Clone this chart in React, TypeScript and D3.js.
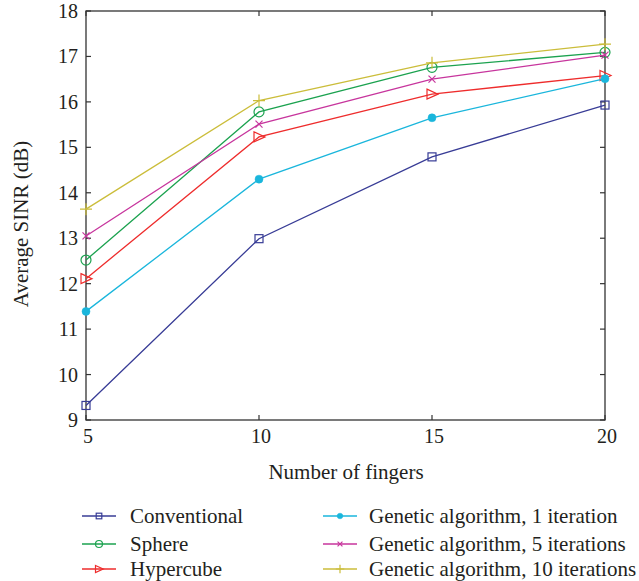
import React from "react";
import * as d3 from "d3";

const fingers = [5, 10, 15, 20];
const conventional = [9.32, 12.99, 14.79, 15.93];
const sphere = [12.52, 15.78, 16.76, 17.09];
const hypercube = [12.11, 15.23, 16.17, 16.58];
const ga1 = [11.39, 14.3, 15.65, 16.51];
const ga5 = [13.05, 15.51, 16.5, 17.03];
const ga10 = [13.64, 16.03, 16.86, 17.27];
const yTicks = [9, 10, 11, 12, 13, 14, 15, 16, 17, 18];
const xTicks = [5, 10, 15, 20];

const seriesNames = [
  "Conventional",
  "Sphere",
  "Hypercube",
  "Genetic algorithm, 1 iteration",
  "Genetic algorithm, 5 iterations",
  "Genetic algorithm, 10 iterations",
];
const seriesValues = [conventional, sphere, hypercube, ga1, ga5, ga10];
const seriesColors = ["#383c96", "#1ba24f", "#ee2c2c", "#1ab6dc", "#c7359d", "#cbbd3a"];
const seriesMarkers = ["square", "circle", "triangle", "dot", "x", "plus"];

const W = 639, H = 581;
const L = 86, R = 605, T = 11, B = 420;
const FONT = "'Liberation Serif', 'DejaVu Serif', serif";
const AX = "#333";
const TXT = "#231f20";

function Marker({ type, x, y, color, s = 1 }: { type: string; x: number; y: number; color: string; s?: number }) {
  const sw = 1.2;
  switch (type) {
    case "square":
      return <rect x={x - 4 * s} y={y - 4 * s} width={8 * s} height={8 * s} fill="none" stroke={color} strokeWidth={sw} />;
    case "circle":
      return <circle cx={x} cy={y} r={5 * s} fill="none" stroke={color} strokeWidth={sw} />;
    case "triangle":
      return (
        <path
          d={`M${x - 5 * s},${y - 5 * s}L${x + 6 * s},${y}L${x - 5 * s},${y + 5 * s}Z`}
          fill="none"
          stroke={color}
          strokeWidth={sw}
        />
      );
    case "dot":
      return <circle cx={x} cy={y} r={4 * s} fill={color} stroke={color} strokeWidth={0.5} />;
    case "x":
      return (
        <path
          d={`M${x - 3.5 * s},${y - 3.5 * s}L${x + 3.5 * s},${y + 3.5 * s}M${x - 3.5 * s},${y + 3.5 * s}L${x + 3.5 * s},${y - 3.5 * s}`}
          stroke={color}
          strokeWidth={sw}
        />
      );
    case "plus":
      return (
        <path
          d={`M${x - 6 * s},${y}L${x + 6 * s},${y}M${x},${y - 6 * s}L${x},${y + 6 * s}`}
          stroke={color}
          strokeWidth={sw}
        />
      );
  }
  return null;
}

export default function App() {
  const x = d3.scaleLinear().domain([5, 20]).range([L, R]);
  const y = d3.scaleLinear().domain([9, 18]).range([B, T]);
  const line = d3
    .line<number>()
    .x((_, i) => x(fingers[i]))
    .y((d) => y(d));

  const tick = 5;
  const legendRows = [516, 544, 569];

  return (
    <svg width={W} height={H} style={{ position: "absolute", left: 0, top: 0, background: "#fff" }}>
      <rect x={L} y={T} width={R - L} height={B - T} fill="none" stroke={AX} strokeWidth={1.3} />
      {yTicks.map((t) => (
        <g key={"y" + t}>
          <line x1={L} x2={L + tick} y1={y(t)} y2={y(t)} stroke={AX} strokeWidth={1.2} />
          <line x1={R} x2={R - tick} y1={y(t)} y2={y(t)} stroke={AX} strokeWidth={1.2} />
          <text x={78} y={y(t) + 7} textAnchor="end" fontFamily={FONT} fontSize={20} fill={TXT}>
            {t}
          </text>
        </g>
      ))}
      {xTicks.map((t) => (
        <g key={"x" + t}>
          <line x1={x(t)} x2={x(t)} y1={B} y2={B - tick} stroke={AX} strokeWidth={1.2} />
          <line x1={x(t)} x2={x(t)} y1={T} y2={T + tick} stroke={AX} strokeWidth={1.2} />
          <text x={x(t) + 2} y={443} textAnchor="middle" fontFamily={FONT} fontSize={20} fill={TXT}>
            {t}
          </text>
        </g>
      ))}
      <text x={346} y={479} textAnchor="middle" fontFamily={FONT} fontSize={21} fill={TXT}>
        Number of fingers
      </text>
      <text
        transform={`translate(28,224) rotate(-90)`}
        textAnchor="middle"
        fontFamily={FONT}
        fontSize={21}
        fill={TXT}
      >
        Average SINR (dB)
      </text>
      {seriesValues.map((vals, si) => (
        <g key={"s" + si}>
          <path d={line(vals) || ""} fill="none" stroke={seriesColors[si]} strokeWidth={1.3} />
          {vals.map((v, i) => (
            <Marker key={i} type={seriesMarkers[si]} x={x(fingers[i])} y={y(v)} color={seriesColors[si]} />
          ))}
        </g>
      ))}
      {seriesNames.map((name, si) => {
        const col = si < 3 ? 0 : 1;
        const row = si % 3;
        const lx0 = col === 0 ? 82 : 323;
        const lx1 = col === 0 ? 116 : 357;
        const tx = col === 0 ? 130 : 369;
        const ly = legendRows[row];
        return (
          <g key={"l" + si}>
            <line x1={lx0} x2={lx1} y1={ly} y2={ly} stroke={seriesColors[si]} strokeWidth={1.3} />
            <Marker type={seriesMarkers[si]} x={(lx0 + lx1) / 2} y={ly} color={seriesColors[si]} s={0.7} />
            <text x={tx} y={ly + 7} fontFamily={FONT} fontSize={21} fill={TXT}>
              {name}
            </text>
          </g>
        );
      })}
    </svg>
  );
}
